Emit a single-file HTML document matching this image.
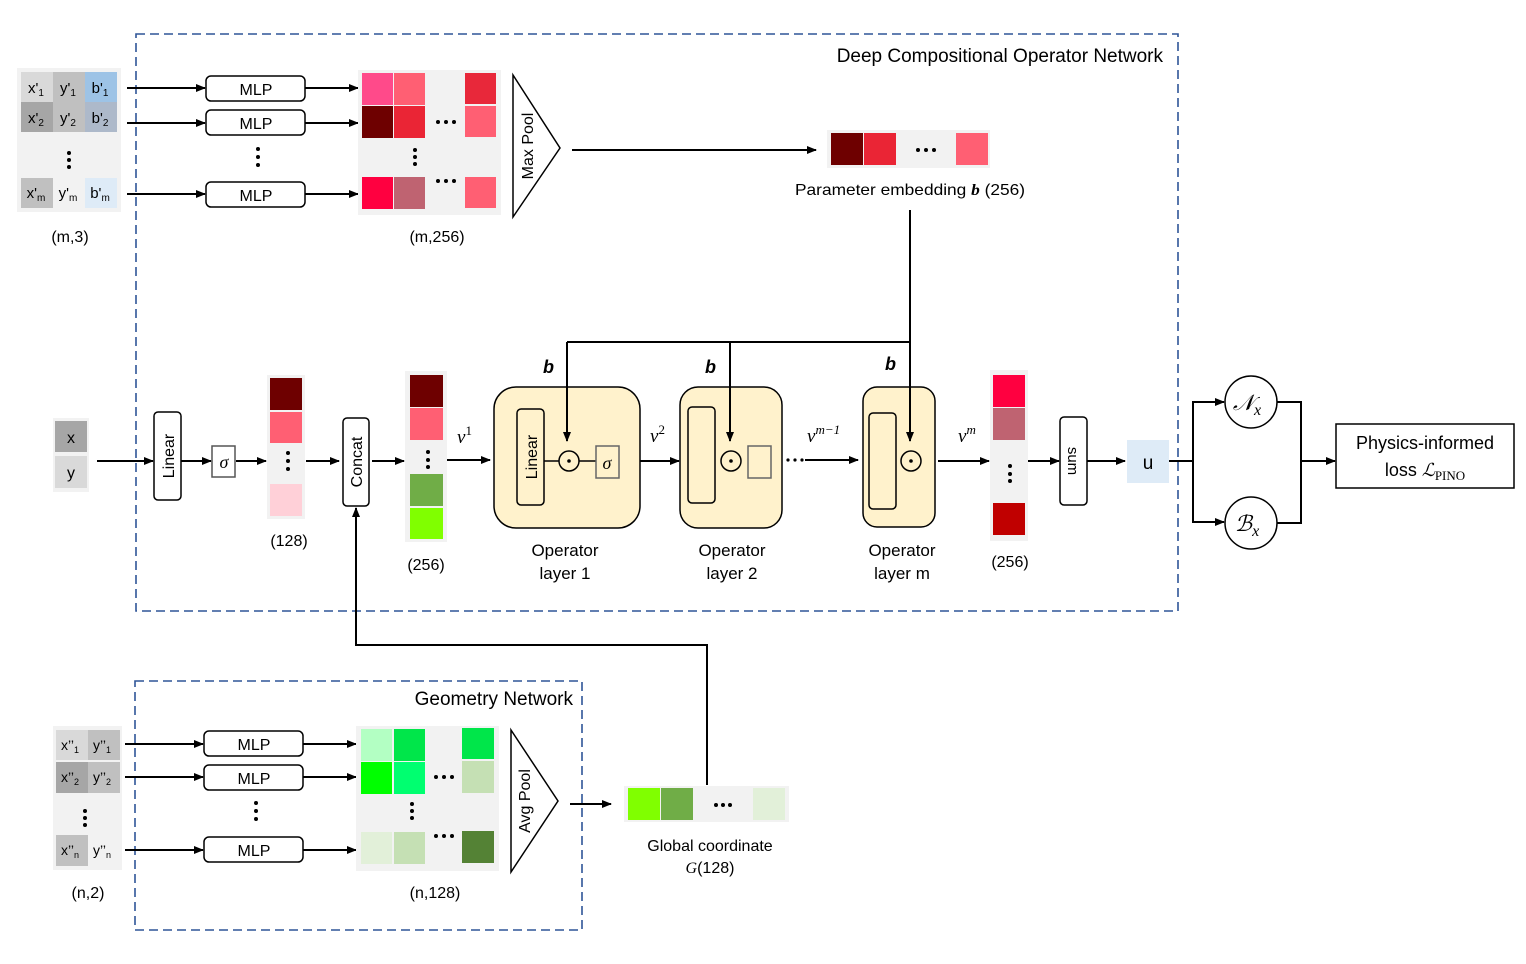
<!DOCTYPE html>
<html><head><meta charset="utf-8">
<style>
html,body{margin:0;padding:0;background:#fff;}
svg{display:block;}
text{font-family:"Liberation Sans",sans-serif;fill:#000;}
.s{font-size:16px;}
.m{font-size:15px;}
.it{font-family:"Liberation Serif",serif;font-style:italic;}
</style></head><body>
<svg width="1526" height="964" viewBox="0 0 1526 964" xmlns="http://www.w3.org/2000/svg">
<defs>
<marker id="a" markerWidth="10" markerHeight="8" refX="9" refY="4" orient="auto" markerUnits="userSpaceOnUse">
<path d="M0,0 L10,4 L0,8 z" fill="#000"/></marker>
</defs>
<g fill="none" stroke="#2F5597" stroke-width="1.6" stroke-dasharray="9,5">
<rect x="136" y="34" width="1042" height="577"/>
<rect x="135" y="681" width="447" height="249"/>
</g>
<text x="1163" y="62" text-anchor="end" style="font-size:19px">Deep Compositional Operator Network</text>
<text x="573" y="705" text-anchor="end" style="font-size:19px">Geometry Network</text>

<!-- top input table -->
<rect x="17" y="68" width="104" height="144" fill="#f2f2f2"/>
<rect x="21" y="72" width="32" height="30" fill="#d9d9d9"/>
<rect x="53" y="72" width="32" height="30" fill="#c0c0c0"/>
<rect x="85" y="72" width="32" height="30" fill="#9dc3e6"/>
<rect x="21" y="102" width="32" height="30" fill="#a6a6a6"/>
<rect x="53" y="102" width="32" height="30" fill="#c0c0c0"/>
<rect x="85" y="102" width="32" height="30" fill="#adb9ca"/>
<rect x="21" y="178" width="32" height="30" fill="#c0c0c0"/>
<rect x="85" y="178" width="32" height="30" fill="#deebf7"/>
<g class="m" text-anchor="middle">
<text x="36" y="93">x'<tspan font-size="10" dy="3">1</tspan></text>
<text x="68" y="93">y'<tspan font-size="10" dy="3">1</tspan></text>
<text x="100" y="93">b'<tspan font-size="10" dy="3">1</tspan></text>
<text x="36" y="123">x'<tspan font-size="10" dy="3">2</tspan></text>
<text x="68" y="123">y'<tspan font-size="10" dy="3">2</tspan></text>
<text x="100" y="123">b'<tspan font-size="10" dy="3">2</tspan></text>
<text x="36" y="198">x'<tspan font-size="10" dy="3">m</tspan></text>
<text x="68" y="198">y'<tspan font-size="10" dy="3">m</tspan></text>
<text x="100" y="198">b'<tspan font-size="10" dy="3">m</tspan></text>
</g>
<g fill="#000"><circle cx="69" cy="153" r="2"/><circle cx="69" cy="160" r="2"/><circle cx="69" cy="167" r="2"/></g>
<text x="70" y="242" class="s" text-anchor="middle">(m,3)</text>

<g stroke="#000" stroke-width="2" marker-end="url(#a)">
<line x1="127" y1="88" x2="205" y2="88"/>
<line x1="127" y1="123" x2="205" y2="123"/>
<line x1="127" y1="194" x2="205" y2="194"/>
<line x1="305" y1="88" x2="358" y2="88"/>
<line x1="305" y1="123" x2="358" y2="123"/>
<line x1="305" y1="194" x2="358" y2="194"/>
</g>
<g fill="#fff" stroke="#000" stroke-width="1.5">
<rect x="206" y="76" width="99" height="25" rx="5"/>
<rect x="206" y="110" width="99" height="25" rx="5"/>
<rect x="206" y="182" width="99" height="25" rx="5"/>
</g>
<g class="s" text-anchor="middle"><text x="256" y="95">MLP</text><text x="256" y="129">MLP</text><text x="256" y="201">MLP</text></g>
<g fill="#000"><circle cx="258" cy="149" r="2"/><circle cx="258" cy="157" r="2"/><circle cx="258" cy="165" r="2"/></g>

<!-- m,256 matrix -->
<rect x="358" y="70" width="143" height="145" fill="#f2f2f2"/>
<rect x="362" y="73" width="31" height="32" fill="#ff4a8a"/>
<rect x="394" y="73" width="31" height="32" fill="#ff5f73"/>
<rect x="465" y="73" width="31" height="31" fill="#e8283a"/>
<rect x="362" y="106" width="31" height="32" fill="#6e0000"/>
<rect x="394" y="106" width="31" height="32" fill="#ea2535"/>
<rect x="465" y="106" width="31" height="31" fill="#ff5f73"/>
<rect x="362" y="177" width="31" height="32" fill="#ff0040"/>
<rect x="394" y="177" width="31" height="32" fill="#bf6371"/>
<rect x="465" y="177" width="31" height="31" fill="#ff5f73"/>
<g fill="#000"><circle cx="438" cy="122" r="2"/><circle cx="446" cy="122" r="2"/><circle cx="454" cy="122" r="2"/>
<circle cx="438" cy="181" r="2"/><circle cx="446" cy="181" r="2"/><circle cx="454" cy="181" r="2"/>
<circle cx="415" cy="150" r="2"/><circle cx="415" cy="157" r="2"/><circle cx="415" cy="164" r="2"/></g>
<text x="437" y="242" class="s" text-anchor="middle">(m,256)</text>
<polygon points="513,75 560,148 513,217" fill="#fff" stroke="#000" stroke-width="1.5"/>
<text transform="translate(533,146) rotate(-90)" class="s" text-anchor="middle">Max Pool</text>
<line x1="572" y1="150" x2="816" y2="150" stroke="#000" stroke-width="2" marker-end="url(#a)"/>

<rect x="827" y="130" width="163" height="38" fill="#f2f2f2"/>
<rect x="831" y="133" width="32" height="32" fill="#6e0000"/>
<rect x="864" y="133" width="32" height="32" fill="#ea2535"/>
<rect x="956" y="133" width="32" height="32" fill="#ff5f73"/>
<g fill="#000"><circle cx="918" cy="150" r="2"/><circle cx="926" cy="150" r="2"/><circle cx="934" cy="150" r="2"/></g>
<text x="910" y="195" class="s" text-anchor="middle" textLength="230" lengthAdjust="spacingAndGlyphs">Parameter embedding <tspan class="it" font-weight="bold">b</tspan> (256)</text>

<g stroke="#000" stroke-width="2" fill="none">
<polyline points="910,210 910,342 567,342"/>
</g>
<g class="it" font-weight="bold" style="font-size:18px">
<text x="543" y="373">b</text><text x="705" y="373">b</text><text x="885" y="370">b</text></g>

<!-- x,y input -->
<rect x="53" y="418" width="36" height="74" fill="#f2f2f2"/>
<rect x="55" y="421" width="32" height="31" fill="#a6a6a6"/>
<rect x="55" y="456" width="32" height="32" fill="#d9d9d9"/>
<text x="71" y="443" class="s" text-anchor="middle">x</text>
<text x="71" y="478" class="s" text-anchor="middle">y</text>

<g stroke="#000" stroke-width="2" marker-end="url(#a)">
<line x1="97" y1="461" x2="153" y2="461"/>
<line x1="181" y1="461" x2="211" y2="461"/>
<line x1="236" y1="461" x2="266" y2="461"/>
<line x1="306" y1="461" x2="339" y2="461"/>
<line x1="372" y1="461" x2="404" y2="461"/>
<line x1="447" y1="460" x2="490" y2="460"/>
<line x1="619" y1="461" x2="679" y2="461"/>
<line x1="805" y1="460" x2="858" y2="460"/>
<line x1="938" y1="461" x2="989" y2="461"/>
<line x1="1028" y1="461" x2="1059" y2="461"/>
<line x1="1087" y1="461" x2="1125" y2="461"/>
</g>
<g fill="#fff" stroke="#000" stroke-width="1.5">
<rect x="154" y="412" width="27" height="88" rx="4"/>
<rect x="343" y="418" width="26" height="88" rx="4"/>
<rect x="1060" y="417" width="27" height="88" rx="4"/>
</g>
<rect x="212" y="446" width="23" height="31" fill="#fff" stroke="#555" stroke-width="1.5"/>
<text x="224" y="468" class="it" style="font-size:18px" text-anchor="middle">σ</text>
<text transform="translate(174,456) rotate(-90)" class="s" text-anchor="middle">Linear</text>
<text transform="translate(362,462) rotate(-90)" class="s" text-anchor="middle">Concat</text>
<text transform="translate(1068,461) rotate(90)" class="m" text-anchor="middle">sum</text>

<!-- 128 vec -->
<rect x="267" y="375" width="38" height="144" fill="#f2f2f2"/>
<rect x="270" y="378" width="32" height="32" fill="#6e0000"/>
<rect x="270" y="412" width="32" height="31" fill="#ff5f73"/>
<rect x="270" y="484" width="32" height="32" fill="#ffd0d8"/>
<g fill="#000"><circle cx="288" cy="453" r="2"/><circle cx="288" cy="461" r="2"/><circle cx="288" cy="469" r="2"/></g>
<text x="289" y="546" class="s" text-anchor="middle">(128)</text>

<!-- 256 vec -->
<rect x="405" y="371" width="42" height="171" fill="#f2f2f2"/>
<rect x="410" y="375" width="33" height="32" fill="#6e0000"/>
<rect x="410" y="408" width="33" height="32" fill="#ff5f73"/>
<rect x="410" y="474" width="33" height="32" fill="#70ad47"/>
<rect x="410" y="508" width="33" height="31" fill="#80ff00"/>
<g fill="#000"><circle cx="428" cy="452" r="2"/><circle cx="428" cy="460" r="2"/><circle cx="428" cy="467" r="2"/></g>
<text x="426" y="570" class="s" text-anchor="middle">(256)</text>
<text x="457" y="443" class="it" style="font-size:19px">v<tspan font-size="13" dy="-8" font-style="normal">1</tspan></text>

<!-- operator layers -->
<g fill="#fff2cc" stroke="#000" stroke-width="1.5">
<rect x="494" y="387" width="146" height="141" rx="22"/>
<rect x="680" y="387" width="102" height="141" rx="18"/>
<rect x="863" y="387" width="72" height="140" rx="14"/>
</g>
<g stroke="#000" stroke-width="2" fill="none">
<line x1="567" y1="342" x2="567" y2="441" marker-end="url(#a)"/>
<line x1="730" y1="342" x2="730" y2="441" marker-end="url(#a)"/>
<line x1="910" y1="342" x2="910" y2="441" marker-end="url(#a)"/>
</g>
<g fill="none" stroke="#000" stroke-width="1.5">
<rect x="517" y="409" width="27" height="96" rx="4"/>
<rect x="688" y="407" width="27" height="96" rx="4"/>
<rect x="869" y="413" width="27" height="96" rx="4"/>
<circle cx="569" cy="461" r="10"/><circle cx="731" cy="461" r="10"/><circle cx="911" cy="461" r="10"/>
<line x1="544" y1="461" x2="559" y2="461"/><line x1="579" y1="461" x2="596" y2="461"/>
</g>
<g fill="#000"><circle cx="569" cy="461" r="1.8"/><circle cx="731" cy="461" r="1.8"/><circle cx="911" cy="461" r="1.8"/></g>
<g fill="none" stroke="#666" stroke-width="1.5">
<rect x="596" y="446" width="23" height="32"/>
<rect x="748" y="446" width="23" height="32"/>
</g>
<text x="607" y="469" class="it" style="font-size:18px" text-anchor="middle">σ</text>
<text transform="translate(537,457) rotate(-90)" class="s" text-anchor="middle">Linear</text>
<g fill="#000"><circle cx="788" cy="460" r="1.6"/><circle cx="795" cy="460" r="1.6"/><circle cx="802" cy="460" r="1.6"/></g>
<text x="650" y="442" class="it" style="font-size:19px">v<tspan font-size="13" dy="-8" font-style="normal">2</tspan></text>
<text x="807" y="442" class="it" style="font-size:19px">v<tspan font-size="13" dy="-8">m−1</tspan></text>
<text x="958" y="442" class="it" style="font-size:19px">v<tspan font-size="13" dy="-8">m</tspan></text>
<g class="s" text-anchor="middle" style="font-size:17px">
<text x="565" y="556">Operator</text><text x="565" y="579">layer 1</text>
<text x="732" y="556">Operator</text><text x="732" y="579">layer 2</text>
<text x="902" y="556">Operator</text><text x="902" y="579">layer m</text>
</g>

<!-- out vec -->
<rect x="990" y="370" width="38" height="171" fill="#f2f2f2"/>
<rect x="993" y="375" width="32" height="32" fill="#ff0040"/>
<rect x="993" y="408" width="32" height="32" fill="#bf6371"/>
<rect x="993" y="503" width="32" height="32" fill="#c00000"/>
<g fill="#000"><circle cx="1010" cy="466" r="2"/><circle cx="1010" cy="474" r="2"/><circle cx="1010" cy="481" r="2"/></g>
<text x="1010" y="567" class="s" text-anchor="middle">(256)</text>
<rect x="1127" y="440" width="42" height="43" fill="#deebf7"/>
<text x="1148" y="469" style="font-size:19px" text-anchor="middle">u</text>

<g stroke="#000" stroke-width="2" fill="none">
<polyline points="1169,461 1193,461"/>
<polyline points="1193,522 1193,402 1224,402" marker-end="url(#a)"/>
<polyline points="1193,461 1193,522 1224,522" marker-end="url(#a)"/>
<polyline points="1277,402 1301,402 1301,523 1277,523"/>
<line x1="1301" y1="461" x2="1335" y2="461" marker-end="url(#a)"/>
</g>
<g fill="#fff" stroke="#000" stroke-width="1.5">
<circle cx="1251" cy="402" r="26"/><circle cx="1251" cy="523" r="26"/>
<rect x="1336" y="424" width="178" height="64"/>
</g>
<text x="1247" y="410" class="it" style="font-size:22px" text-anchor="middle">𝒩<tspan font-size="16" dy="5">x</tspan></text>
<text x="1247" y="531" class="it" style="font-size:22px" text-anchor="middle">ℬ<tspan font-size="16" dy="5">x</tspan></text>
<text x="1425" y="449" style="font-size:18px" text-anchor="middle">Physics-informed</text>
<text x="1425" y="476" style="font-size:18px" text-anchor="middle">loss <tspan class="it">ℒ</tspan><tspan font-size="13" dy="4" font-family="Liberation Serif">PINO</tspan></text>

<!-- concat feed -->
<polyline points="707,785 707,645 356,645 356,508" fill="none" stroke="#000" stroke-width="2" marker-end="url(#a)"/>

<!-- geometry input -->
<rect x="53" y="726" width="69" height="144" fill="#f2f2f2"/>
<rect x="56" y="730" width="32" height="30" fill="#d9d9d9"/>
<rect x="88" y="730" width="32" height="30" fill="#c0c0c0"/>
<rect x="56" y="762" width="32" height="31" fill="#a6a6a6"/>
<rect x="88" y="762" width="32" height="31" fill="#c0c0c0"/>
<rect x="56" y="835" width="32" height="31" fill="#c0c0c0"/>
<g class="m" text-anchor="middle" style="font-size:14px">
<text x="70" y="750">x’’<tspan font-size="9" dy="3">1</tspan></text>
<text x="102" y="750">y’’<tspan font-size="9" dy="3">1</tspan></text>
<text x="70" y="782">x’’<tspan font-size="9" dy="3">2</tspan></text>
<text x="102" y="782">y’’<tspan font-size="9" dy="3">2</tspan></text>
<text x="70" y="855">x’’<tspan font-size="9" dy="3">n</tspan></text>
<text x="102" y="855">y’’<tspan font-size="9" dy="3">n</tspan></text>
</g>
<g fill="#000"><circle cx="85" cy="811" r="2"/><circle cx="85" cy="818" r="2"/><circle cx="85" cy="825" r="2"/></g>
<text x="88" y="898" class="s" text-anchor="middle">(n,2)</text>
<g stroke="#000" stroke-width="2" marker-end="url(#a)">
<line x1="125" y1="744" x2="203" y2="744"/>
<line x1="125" y1="777" x2="203" y2="777"/>
<line x1="125" y1="850" x2="203" y2="850"/>
<line x1="303" y1="744" x2="356" y2="744"/>
<line x1="303" y1="777" x2="356" y2="777"/>
<line x1="303" y1="850" x2="356" y2="850"/>
<line x1="570" y1="804" x2="611" y2="804"/>
</g>
<g fill="#fff" stroke="#000" stroke-width="1.5">
<rect x="204" y="731" width="99" height="25" rx="5"/>
<rect x="204" y="765" width="99" height="25" rx="5"/>
<rect x="204" y="837" width="99" height="25" rx="5"/>
</g>
<g class="s" text-anchor="middle"><text x="254" y="750">MLP</text><text x="254" y="784">MLP</text><text x="254" y="856">MLP</text></g>
<g fill="#000"><circle cx="256" cy="803" r="2"/><circle cx="256" cy="811" r="2"/><circle cx="256" cy="819" r="2"/></g>
<rect x="356" y="726" width="143" height="145" fill="#f2f2f2"/>
<rect x="361" y="729" width="31" height="32" fill="#b3ffc3"/>
<rect x="394" y="729" width="31" height="32" fill="#00e64a"/>
<rect x="462" y="728" width="32" height="31" fill="#00e64a"/>
<rect x="361" y="762" width="31" height="32" fill="#00ff00"/>
<rect x="394" y="762" width="31" height="32" fill="#00ff70"/>
<rect x="462" y="761" width="32" height="32" fill="#c5e0b4"/>
<rect x="361" y="832" width="31" height="32" fill="#e2f0d9"/>
<rect x="394" y="832" width="31" height="32" fill="#c5e0b4"/>
<rect x="462" y="831" width="32" height="32" fill="#548235"/>
<g fill="#000"><circle cx="436" cy="777" r="2"/><circle cx="444" cy="777" r="2"/><circle cx="452" cy="777" r="2"/>
<circle cx="436" cy="836" r="2"/><circle cx="444" cy="836" r="2"/><circle cx="452" cy="836" r="2"/>
<circle cx="412" cy="804" r="2"/><circle cx="412" cy="811" r="2"/><circle cx="412" cy="818" r="2"/></g>
<text x="435" y="898" class="s" text-anchor="middle">(n,128)</text>
<polygon points="511,730 558,801 511,872" fill="#fff" stroke="#000" stroke-width="1.5"/>
<text transform="translate(530,801) rotate(-90)" class="s" text-anchor="middle">Avg Pool</text>

<rect x="624" y="786" width="165" height="36" fill="#f2f2f2"/>
<rect x="628" y="788" width="32" height="32" fill="#80ff00"/>
<rect x="661" y="788" width="32" height="32" fill="#70ad47"/>
<rect x="753" y="788" width="32" height="32" fill="#e2f0d9"/>
<g fill="#000"><circle cx="716" cy="805" r="2"/><circle cx="723" cy="805" r="2"/><circle cx="730" cy="805" r="2"/></g>
<text x="710" y="851" class="s" text-anchor="middle">Global coordinate</text>
<text x="710" y="873" class="s" text-anchor="middle"><tspan class="it" font-family="Liberation Serif">G</tspan>(128)</text>
</svg>
</body></html>
